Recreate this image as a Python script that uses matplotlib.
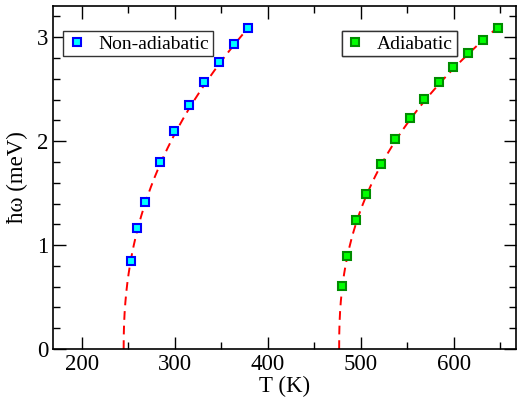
import numpy as np
import matplotlib
matplotlib.use("Agg")
import matplotlib.pyplot as plt
from matplotlib.ticker import MultipleLocator

# data
t_nonad = [252.4, 259.3, 267.5, 284.1, 299.2, 315.4, 331.9, 347.4, 363.2, 378.6]
w_nonad = [0.845, 1.161, 1.411, 1.795, 2.099, 2.348, 2.565, 2.757, 2.930, 3.087]

t_ad = [480.4, 485.3, 495.4, 505.7, 521.4, 536.8, 552.8, 568.3, 584.4,
        599.4, 615.4, 631.5, 647.2]
w_ad = [0.607, 0.893, 1.238, 1.494, 1.782, 2.018, 2.224, 2.402, 2.567,
        2.716, 2.850, 2.975, 3.093]

# fit curves w = A*(T-Tc)^beta, parameters estimated from the dashed lines
fit_nonad = dict(tc=245.0, amp=0.341, beta=0.45, wmax=3.09)
fit_ad = dict(tc=476.8, amp=0.3575, beta=0.42, wmax=3.095)

plt.rcParams['font.family'] = ['Liberation Serif', 'DejaVu Serif']

fig = plt.figure(figsize=(5.17, 4.03), dpi=100)
ax = fig.add_axes([0.1025, 0.134, 0.8955, 0.851])

for p in (fit_nonad, fit_ad):
    w = np.linspace(0, p['wmax'], 300)
    t = p['tc'] + (w / p['amp']) ** (1.0 / p['beta'])
    ax.plot(t, w, color='red', lw=1.4, ls=(0, (4.5, 3)), zorder=2, clip_on=False)

ax.plot(t_nonad, w_nonad, ls='none', marker='s', ms=6.3, mfc='#00ffff',
        mec='#0000ff', mew=1.5, label='Non-adiabatic', zorder=3)
ax.plot(t_ad, w_ad, ls='none', marker='s', ms=6.3, mfc='#00ff00',
        mec='#008c00', mew=1.5, label='Adiabatic', zorder=3)

ax.set_xlim(169, 667)
ax.set_ylim(0, 3.3)
ax.xaxis.set_major_locator(MultipleLocator(100))
ax.xaxis.set_minor_locator(MultipleLocator(50))
ax.yaxis.set_major_locator(MultipleLocator(1))
ax.yaxis.set_minor_locator(MultipleLocator(0.2))
ax.tick_params(which='both', direction='in', top=True, right=True,
               labelsize=16.5, width=1.0)
ax.tick_params(which='major', length=9)
ax.tick_params(which='minor', length=5)
for s in ax.spines.values():
    s.set_linewidth(1.2)

ax.set_xlabel('T (K)', fontsize=16.5, labelpad=0.5)
ax.set_ylabel('ħω (meV)', fontsize=16.5, labelpad=6)

h = ax.get_legend_handles_labels()[0]
legs = []
for hd, lab, x0 in ((h[0], 'Non-adiabatic', 0.0216), (h[1], 'Adiabatic', 0.624)):
    lg = ax.legend([hd], [lab], loc='upper left',
                   bbox_to_anchor=(x0, 0.927), fontsize=14, frameon=True,
                   fancybox=False, edgecolor='#333333', framealpha=1,
                   handlelength=1.0, handletextpad=0.6, borderpad=0.2,
                   borderaxespad=0)
    lg.get_frame().set_linewidth(1.0)
    ax.add_artist(lg)

fig.savefig('out.png', dpi=100)
